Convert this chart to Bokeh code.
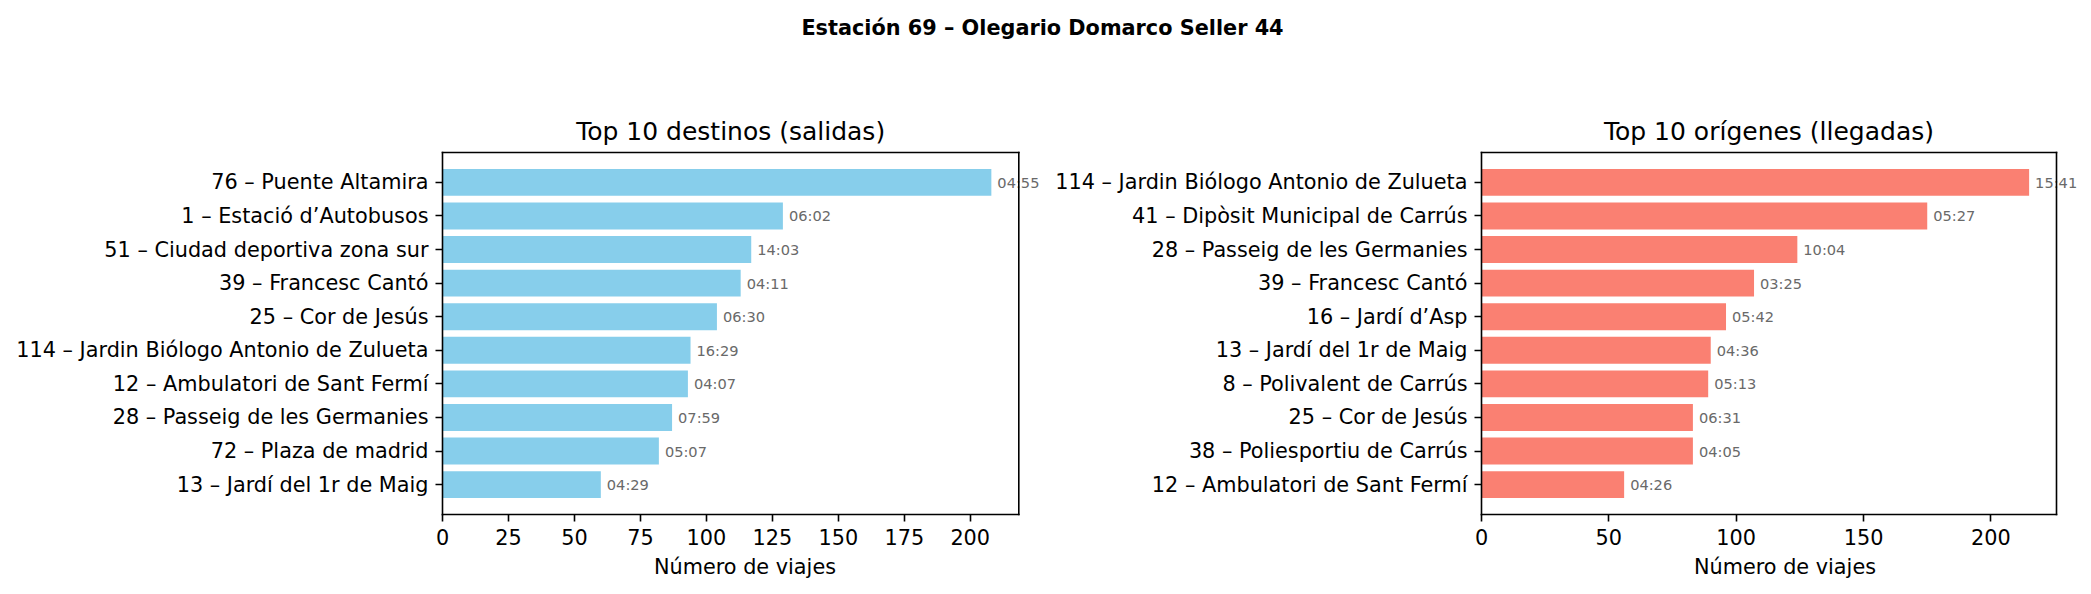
from bokeh.plotting import figure
from bokeh.models import ColumnDataSource, FixedTicker, Range1d, Label
from bokeh.core.properties import value
from bokeh.layouts import column, row
from bokeh.embed import file_html
from bokeh.resources import INLINE

suptitle = "Estación 69 – Olegario Domarco Seller 44"

dest_title = "Top 10 destinos (salidas)"
dest_labels = [
    "76 – Puente Altamira",
    "1 – Estació d’Autobusos",
    "51 – Ciudad deportiva zona sur",
    "39 – Francesc Cantó",
    "25 – Cor de Jesús",
    "114 – Jardin Biólogo Antonio de Zulueta",
    "12 – Ambulatori de Sant Fermí",
    "28 – Passeig de les Germanies",
    "72 – Plaza de madrid",
    "13 – Jardí del 1r de Maig",
]
dest_trips = [208, 129, 117, 113, 104, 94, 93, 87, 82, 60]
dest_times = ["04:55", "06:02", "14:03", "04:11", "06:30", "16:29", "04:07", "07:59", "05:07", "04:29"]
dest_xticks = [0, 25, 50, 75, 100, 125, 150, 175, 200]

orig_title = "Top 10 orígenes (llegadas)"
orig_labels = [
    "114 – Jardin Biólogo Antonio de Zulueta",
    "41 – Dipòsit Municipal de Carrús",
    "28 – Passeig de les Germanies",
    "39 – Francesc Cantó",
    "16 – Jardí d’Asp",
    "13 – Jardí del 1r de Maig",
    "8 – Polivalent de Carrús",
    "25 – Cor de Jesús",
    "38 – Poliesportiu de Carrús",
    "12 – Ambulatori de Sant Fermí",
]
orig_trips = [215, 175, 124, 107, 96, 90, 89, 83, 83, 56]
orig_times = ["15:41", "05:27", "10:04", "03:25", "05:42", "04:36", "05:13", "06:31", "04:05", "04:26"]
orig_xticks = [0, 50, 100, 150, 200]

xlabel = "Número de viajes"

FONT = "DejaVu Sans"
TICK_FS = "20.8px"
PAD = 3          # frame extends PAD px beyond the drawn spines
TOP_H = 149      # height of the header strip (suptitle + panel titles)
PANEL_H = 594 - TOP_H
BAR_H = 0.8


def make_panel(labels, trips, times, xticks, color, W, L, R, T, B):
    n = len(labels)
    ys = [n - 1 - i for i in range(n)]
    src = ColumnDataSource(dict(y=ys, x=trips, t=times))

    # matplotlib-like limits (5% margins, sticky zero)
    X = max(trips) * 1.05
    span = (n - 1) + BAR_H
    ylo = -BAR_H / 2 - 0.05 * span
    yhi = (n - 1) + BAR_H / 2 + 0.05 * span

    kx = (R - L) / X
    ky = (B - T) / (yhi - ylo)
    p = figure(
        width=W, height=PANEL_H,
        x_range=Range1d(-PAD / kx, X + (W - R) / kx),
        y_range=Range1d(ylo - PAD / ky, yhi + PAD / ky),
        toolbar_location=None, output_backend="svg",
        min_border_left=L - PAD, min_border_right=0,
        min_border_top=T - PAD, min_border_bottom=PANEL_H - B - PAD,
    )
    p.outline_line_color = None
    p.xgrid.visible = False
    p.ygrid.visible = False

    p.hbar(y="y", right="x", left=0, height=BAR_H, source=src, fill_color=color, line_color=None)
    p.text(x="x", y="y", text="t", source=src, x_offset=6, text_baseline="middle",
           text_align="left", text_font=value(FONT), text_font_size=value("14.6px"),
           text_color="dimgray")

    # spines (drawn over the value labels, as in the original)
    p.segment(x0=[0, 0, 0, X], y0=[ylo, yhi, ylo, ylo],
              x1=[X, X, 0, X], y1=[ylo, yhi, yhi, yhi],
              line_color="black", line_width=1.6, line_cap="square")

    for ax in (p.xaxis[0], p.yaxis[0]):
        ax.axis_line_color = None
        ax.major_tick_line_color = "black"
        ax.major_tick_line_width = 1.6
        ax.major_tick_in = PAD
        ax.major_tick_out = 7 - PAD
        ax.minor_tick_line_color = None
        ax.major_label_text_font = FONT
        ax.major_label_text_font_size = TICK_FS
        ax.major_label_text_color = "black"
        ax.major_label_standoff = 7

    p.xaxis.ticker = FixedTicker(ticks=xticks)
    p.xaxis.axis_label = xlabel
    p.xaxis.axis_label_text_font = FONT
    p.xaxis.axis_label_text_font_size = TICK_FS
    p.xaxis.axis_label_text_font_style = "normal"
    p.xaxis.axis_label_text_color = "black"
    p.xaxis.axis_label_standoff = 7

    p.yaxis.ticker = FixedTicker(ticks=ys)
    p.yaxis.major_label_overrides = {y: l for y, l in zip(ys, labels)}
    return p


# panel geometry (figure-local pixels)
P1_W, P1_L, P1_R = 1050, 442, 1018.3
P2_W, P2_L, P2_R = 1041, 431, 1006.0
T_LOC, B_LOC = 152 - TOP_H, 514 - TOP_H

p1 = make_panel(dest_labels, dest_trips, dest_times, dest_xticks, "#87CEEB",
                P1_W, P1_L, P1_R, T_LOC, B_LOC)
p2 = make_panel(orig_labels, orig_trips, orig_times, orig_xticks, "#FA8072",
                P2_W, P2_L, P2_R, T_LOC, B_LOC)

# header strip with suptitle and panel titles
p0 = figure(width=2091, height=TOP_H, x_axis_type=None, y_axis_type=None,
            x_range=Range1d(0, 2091), y_range=Range1d(0, TOP_H),
            toolbar_location=None, output_backend="svg", min_border=0)
p0.outline_line_color = None
p0.xgrid.visible = False
p0.ygrid.visible = False
p0.add_layout(Label(x=1042, y=TOP_H - 27.5, x_units="screen", y_units="screen",
                    text=suptitle, text_align="center", text_baseline="alphabetic",
                    text_font=FONT, text_font_size="20.8px", text_font_style="bold",
                    text_color="black"))
for cx, t in (((P1_L + P1_R) / 2, dest_title), (P1_W + (P2_L + P2_R) / 2, orig_title)):
    p0.add_layout(Label(x=cx, y=TOP_H - 131, x_units="screen", y_units="screen",
                        text=t, text_align="center", text_baseline="alphabetic",
                        text_font=FONT, text_font_size="25px", text_font_style="normal",
                        text_color="black"))

layout = column(p0, row(p1, p2, spacing=0), spacing=0)

open("out.html", "w").write(file_html(layout, INLINE))
